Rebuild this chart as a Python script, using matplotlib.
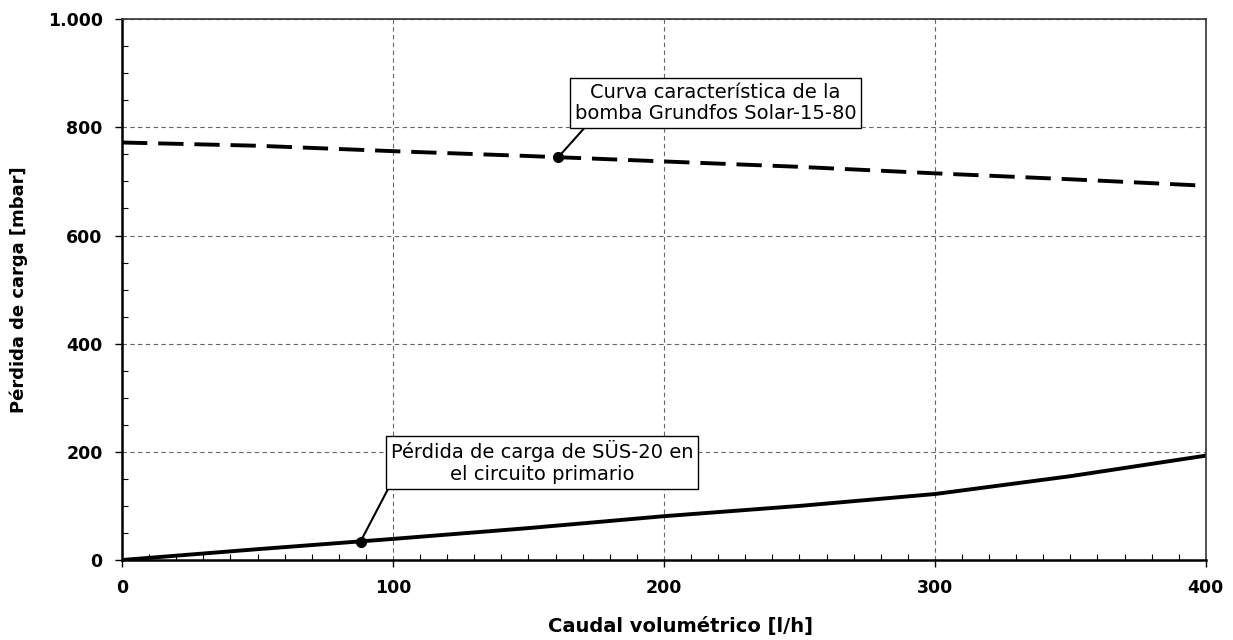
import matplotlib
matplotlib.use("Agg")
import matplotlib.pyplot as plt
from matplotlib.ticker import MultipleLocator, FuncFormatter

# caudal [l/h]
caudal = [0, 50, 100, 150, 200, 250, 300, 350, 400]
# curva de la bomba [mbar]
bomba = [772, 766, 756, 747, 737, 727, 715, 704, 692]
# perdida de carga del circuito primario [mbar]
perdida = [0, 20, 39, 59, 81, 100, 122, 155, 193]

punto_bomba = (161, 745)
punto_perdida = (88, 34)

texto_bomba = "Curva característica de la\nbomba Grundfos Solar-15-80"
texto_perdida = "Pérdida de carga de SÜS-20 en\nel circuito primario"

fig = plt.figure(figsize=(12.33, 6.4), dpi=100)
ax = fig.add_axes([0.099, 0.125, 0.879, 0.845])

ax.plot(caudal, bomba, color="black", lw=2.8, ls=(0, (6.5, 2.8)))
ax.plot(caudal, perdida, color="black", lw=2.8)
ax.plot(*punto_bomba, "o", color="black", ms=7)
ax.plot(*punto_perdida, "o", color="black", ms=7)

caja = dict(boxstyle="square,pad=0.25", fc="white", ec="black", lw=1)
ax.annotate(texto_bomba, xy=punto_bomba, xytext=(219, 845),
            ha="center", va="center", fontsize=14, bbox=caja,
            linespacing=1.15,
            arrowprops=dict(arrowstyle="-", color="black", lw=1.5,
                            relpos=(0.05, 0.0), shrinkA=0, shrinkB=0))
ax.annotate(texto_perdida, xy=punto_perdida, xytext=(155, 181),
            ha="center", va="center", fontsize=14, bbox=caja,
            linespacing=1.15,
            arrowprops=dict(arrowstyle="-", color="black", lw=1.5,
                            relpos=(0.0, 0.0), shrinkA=0, shrinkB=0))

ax.set_xlim(0, 400)
ax.set_ylim(0, 1000)
ax.xaxis.set_major_locator(MultipleLocator(100))
ax.xaxis.set_minor_locator(MultipleLocator(10))
ax.yaxis.set_major_locator(MultipleLocator(200))
ax.yaxis.set_minor_locator(MultipleLocator(50))
ax.yaxis.set_major_formatter(FuncFormatter(lambda v, p: f"{int(v):,}".replace(",", ".")))

ax.grid(True, which="major", color="#666666", ls=(0, (4, 3)), lw=0.8)
ax.tick_params(which="major", direction="out", length=5, width=1,
               labelsize=12.5, pad=9)
ax.tick_params(which="minor", direction="in", length=4, width=0.8)
for lab in ax.get_xticklabels() + ax.get_yticklabels():
    lab.set_fontweight("bold")

for lado in ["left", "bottom"]:
    ax.spines[lado].set_linewidth(1.8)
for lado in ["top", "right"]:
    ax.spines[lado].set_linewidth(1.2)
    ax.spines[lado].set_color("#333333")

ax.set_xlabel("Caudal volumétrico [l/h]", fontsize=14, fontweight="bold")
ax.xaxis.set_label_coords(0.515, -0.105)
ax.set_ylabel("Pérdida de carga [mbar]", fontsize=13, fontweight="bold")
ax.yaxis.set_label_coords(-0.087, 0.5)

fig.savefig("out.png", dpi=100)
